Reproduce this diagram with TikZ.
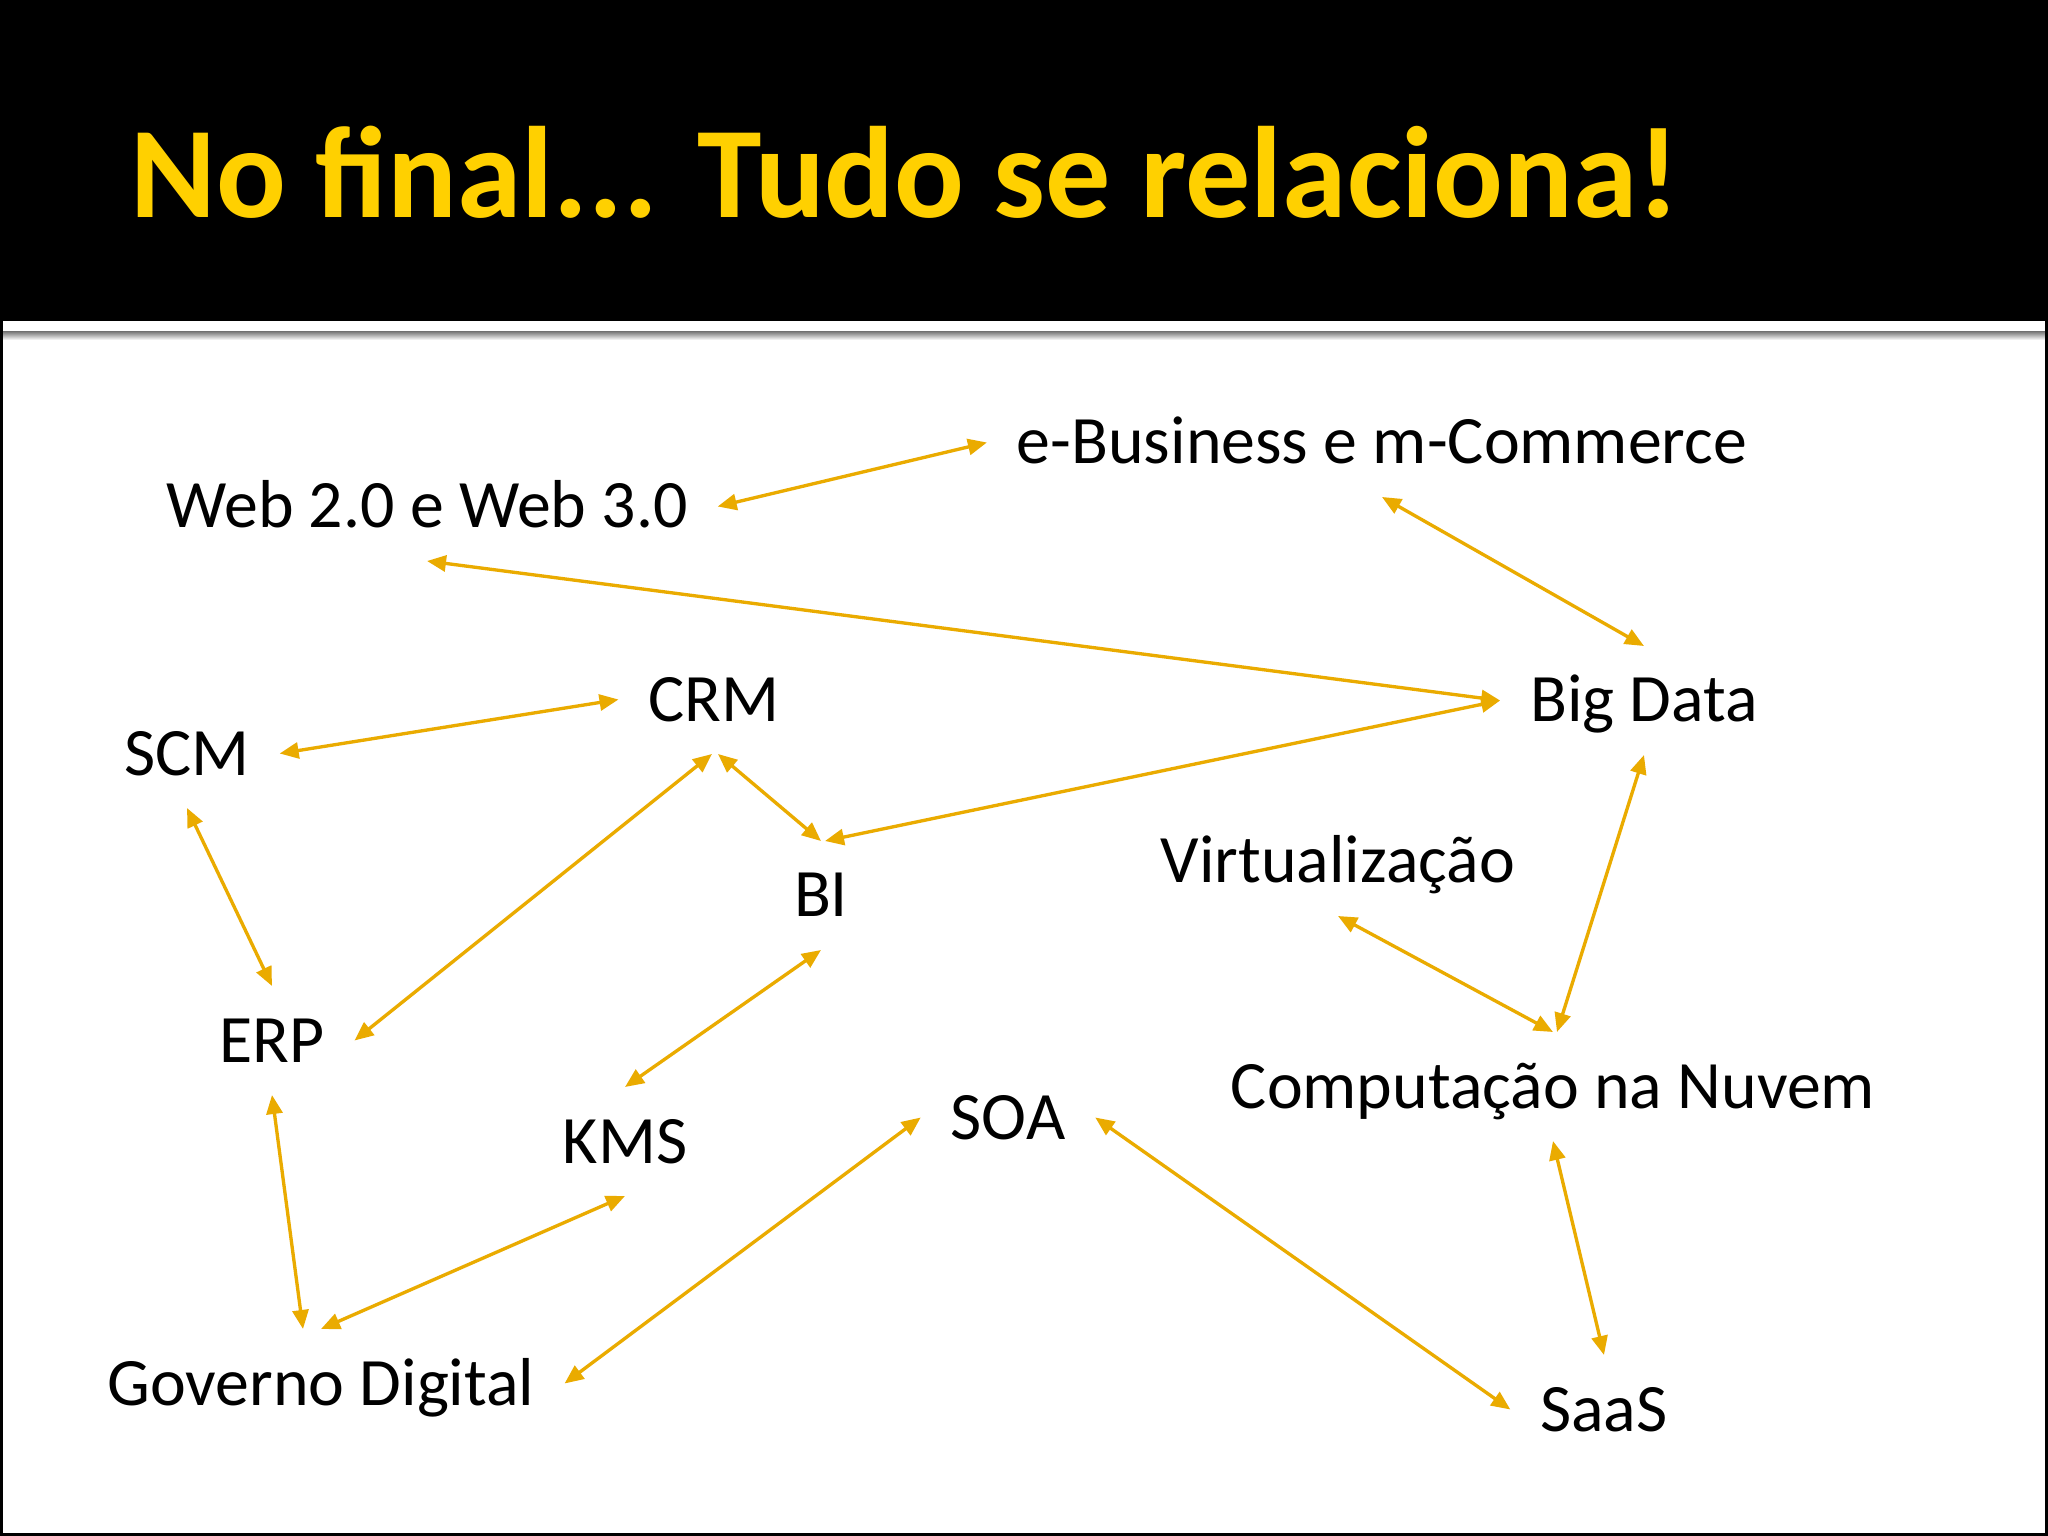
\documentclass[tikz,border=0pt]{standalone}
\usepackage{fontspec}
\setmainfont{Carlito}
\usetikzlibrary{arrows.meta}

\definecolor{titleyellow}{RGB}{255,208,0}
\definecolor{linkgold}{RGB}{234,171,0}

\begin{document}
\begin{tikzpicture}[
    title/.style={font=\fontsize{37pt}{44pt}\selectfont\bfseries, text=titleyellow, inner sep=0pt, anchor=base west},
    topic/.style={font=\fontsize{19.3pt}{23pt}\selectfont, inner sep=0pt, text height=0.70cm, text depth=0.27cm,
                  outer xsep=0.30cm, outer ysep=0.06cm, anchor=base},
    tip/.tip={Triangle[length=0.19cm,width=0.16cm]},
    link/.style={tip-tip, color=linkgold, line width=0.95pt}]
  \useasboundingbox (0,0) rectangle (20.48,-15.36);
  % slide background
  \fill[white] (0,0) rectangle (20.48,-15.36);
  \fill[black] (0,0) rectangle (20.48,-3.21);
  \shade[top color=gray, bottom color=white] (0,-3.32) rectangle (20.48,-3.40);
  \draw[black, line width=0.03cm] (0.015,-3.21) -- (0.015,-15.345) -- (20.465,-15.345) -- (20.465,-3.21);

  \node[title] (title) at (1.30,-2.18) {No final... Tudo se relaciona!};

  \node[topic] (web)     at (4.27,-5.28)   {Web 2.0 e Web 3.0};
  \node[topic] (ebiz)    at (13.82,-4.64)  {e-Business e m-Commerce};
  \node[topic] (bigdata) at (16.44,-7.22)  {Big Data};
  \node[topic] (crm)     at (7.14,-7.21)   {CRM};
  \node[topic] (scm)     at (1.87,-7.75)   {SCM};
  \node[topic] (bi)      at (8.21,-9.17)   {BI};
  \node[topic] (virt)    at (13.38,-8.83)  {Virtualização};
  \node[topic] (erp)     at (2.72,-10.62)  {ERP};
  \node[topic] (nuvem)   at (15.53,-11.08) {Computação na Nuvem};
  \node[topic] (kms)     at (6.25,-11.63)  {KMS};
  \node[topic] (soa)     at (10.08,-11.39) {SOA};
  \node[topic] (gov)     at (3.21,-14.05)  {Governo Digital};
  \node[topic] (saas)    at (16.04,-14.31) {SaaS};

  \path[link] (web.east)                edge (ebiz.west)
              (ebiz.south)              edge (bigdata.north)
              (web.south)               edge (bigdata.west)
              (scm.east)                edge (crm.west)
              ([xshift=-0.02cm]crm.south) edge (erp.east)
              ([xshift=0.04cm]crm.south)  edge (bi.north)
              ([xshift=0.04cm]bi.north)   edge (bigdata.west)
              (scm.south)               edge (erp.north)
              (bi.south)                edge (kms.north)
              (erp.south)               edge ([xshift=-0.18cm]gov.north)
              (kms.south)               edge (gov.north)
              (soa.west)                edge (gov.east)
              (soa.east)                edge (saas.west)
              (virt.south)              edge (nuvem.north)
              (bigdata.south)           edge ([xshift=0.04cm]nuvem.north)
              (nuvem.south)             edge (saas.north)
                    ;
\end{tikzpicture}
\end{document}
